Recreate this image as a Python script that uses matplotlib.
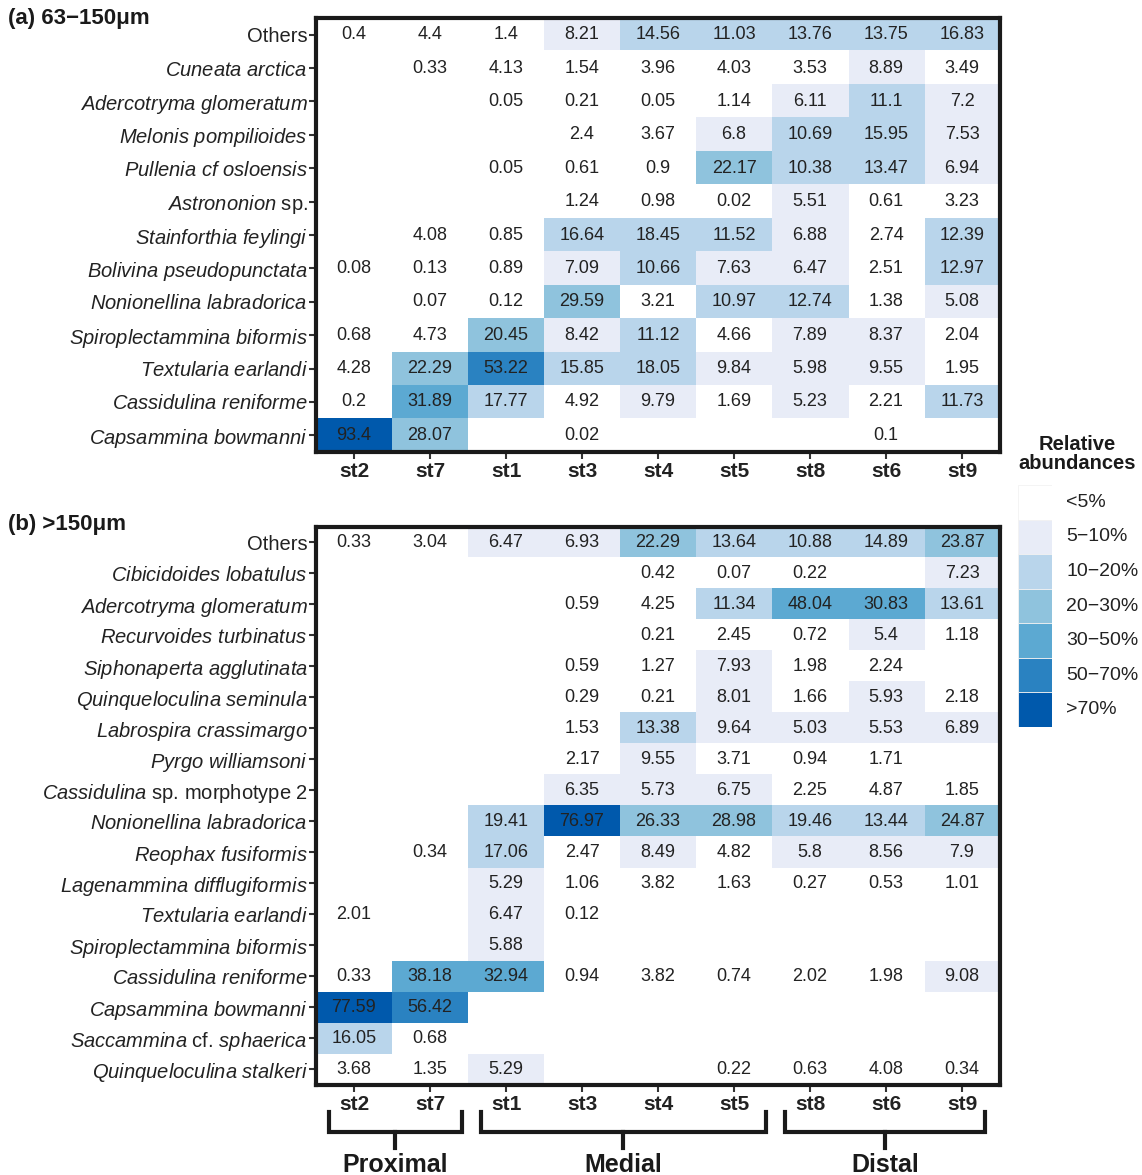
import numpy as np
import matplotlib
matplotlib.use("Agg")
import matplotlib.pyplot as plt
from matplotlib.colors import ListedColormap, BoundaryNorm
from matplotlib.patches import Rectangle

plt.rcParams['font.family'] = ['Liberation Sans', 'DejaVu Sans']
plt.rcParams['mathtext.fontset'] = 'custom'
plt.rcParams['mathtext.rm'] = 'Liberation Sans'
plt.rcParams['mathtext.it'] = 'Liberation Sans:italic'

nan = np.nan

# stations (columns)
stations = ["st2", "st7", "st1", "st3", "st4", "st5", "st8", "st6", "st9"]

# (a) 63-150um
species_a = ["Others", "Cuneata arctica", "Adercotryma glomeratum", "Melonis pompilioides",
             "Pullenia cf osloensis", "Astrononion sp.", "Stainforthia feylingi",
             "Bolivina pseudopunctata", "Nonionellina labradorica", "Spiroplectammina biformis",
             "Textularia earlandi", "Cassidulina reniforme", "Capsammina bowmanni"]
values_a = [
    [0.4, 4.4, 1.4, 8.21, 14.56, 11.03, 13.76, 13.75, 16.83],
    [nan, 0.33, 4.13, 1.54, 3.96, 4.03, 3.53, 8.89, 3.49],
    [nan, nan, 0.05, 0.21, 0.05, 1.14, 6.11, 11.1, 7.2],
    [nan, nan, nan, 2.4, 3.67, 6.8, 10.69, 15.95, 7.53],
    [nan, nan, 0.05, 0.61, 0.9, 22.17, 10.38, 13.47, 6.94],
    [nan, nan, nan, 1.24, 0.98, 0.02, 5.51, 0.61, 3.23],
    [nan, 4.08, 0.85, 16.64, 18.45, 11.52, 6.88, 2.74, 12.39],
    [0.08, 0.13, 0.89, 7.09, 10.66, 7.63, 6.47, 2.51, 12.97],
    [nan, 0.07, 0.12, 29.59, 3.21, 10.97, 12.74, 1.38, 5.08],
    [0.68, 4.73, 20.45, 8.42, 11.12, 4.66, 7.89, 8.37, 2.04],
    [4.28, 22.29, 53.22, 15.85, 18.05, 9.84, 5.98, 9.55, 1.95],
    [0.2, 31.89, 17.77, 4.92, 9.79, 1.69, 5.23, 2.21, 11.73],
    [93.4, 28.07, nan, 0.02, nan, nan, nan, 0.1, nan],
]

# (b) >150um
species_b = ["Others", "Cibicidoides lobatulus", "Adercotryma glomeratum", "Recurvoides turbinatus",
             "Siphonaperta agglutinata", "Quinqueloculina seminula", "Labrospira crassimargo",
             "Pyrgo williamsoni", "Cassidulina sp. morphotype 2", "Nonionellina labradorica",
             "Reophax fusiformis", "Lagenammina difflugiformis", "Textularia earlandi",
             "Spiroplectammina biformis", "Cassidulina reniforme", "Capsammina bowmanni",
             "Saccammina cf. sphaerica", "Quinqueloculina stalkeri"]
values_b = [
    [0.33, 3.04, 6.47, 6.93, 22.29, 13.64, 10.88, 14.89, 23.87],
    [nan, nan, nan, nan, 0.42, 0.07, 0.22, nan, 7.23],
    [nan, nan, nan, 0.59, 4.25, 11.34, 48.04, 30.83, 13.61],
    [nan, nan, nan, nan, 0.21, 2.45, 0.72, 5.4, 1.18],
    [nan, nan, nan, 0.59, 1.27, 7.93, 1.98, 2.24, nan],
    [nan, nan, nan, 0.29, 0.21, 8.01, 1.66, 5.93, 2.18],
    [nan, nan, nan, 1.53, 13.38, 9.64, 5.03, 5.53, 6.89],
    [nan, nan, nan, 2.17, 9.55, 3.71, 0.94, 1.71, nan],
    [nan, nan, nan, 6.35, 5.73, 6.75, 2.25, 4.87, 1.85],
    [nan, nan, 19.41, 76.97, 26.33, 28.98, 19.46, 13.44, 24.87],
    [nan, 0.34, 17.06, 2.47, 8.49, 4.82, 5.8, 8.56, 7.9],
    [nan, nan, 5.29, 1.06, 3.82, 1.63, 0.27, 0.53, 1.01],
    [2.01, nan, 6.47, 0.12, nan, nan, nan, nan, nan],
    [nan, nan, 5.88, nan, nan, nan, nan, nan, nan],
    [0.33, 38.18, 32.94, 0.94, 3.82, 0.74, 2.02, 1.98, 9.08],
    [77.59, 56.42, nan, nan, nan, nan, nan, nan, nan],
    [16.05, 0.68, nan, nan, nan, nan, nan, nan, nan],
    [3.68, 1.35, 5.29, nan, nan, 0.22, 0.63, 4.08, 0.34],
]

# colour classes
bounds = [0, 5, 10, 20, 30, 50, 70, 100]
class_labels = ["<5%", "5\u221210%", "10\u221220%", "20\u221230%", "30\u221250%", "50\u221270%", ">70%"]
class_colors = ["#FFFFFF", "#E8ECF7", "#B9D5EB", "#8FC3DD", "#5CA9D2", "#2A82C1", "#0059AC"]

# groups of stations
groups = ["Proximal", "Medial", "Distal"]
group_first = [0, 2, 6]
group_last = [1, 5, 8]

cmap = ListedColormap(class_colors)
cmap.set_bad("white")
norm = BoundaryNorm(bounds, cmap.N)

NON_ITALIC = {"Others", "sp.", "cf.", "morphotype", "2"}


def fmt_label(name):
    parts = []
    for w in name.split(" "):
        if w in NON_ITALIC:
            parts.append(w)
        else:
            parts.append(r"$\mathit{" + w + "}$")
    return " ".join(parts)


def heatmap(ax, species, values):
    data = np.array(values, dtype=float)
    ax.imshow(np.ma.masked_invalid(data), cmap=cmap, norm=norm, aspect="auto",
              interpolation="nearest")
    for i in range(data.shape[0]):
        for j in range(data.shape[1]):
            v = data[i, j]
            if not np.isnan(v):
                ax.text(j, i, f"{v:g}", ha="center", va="center", fontsize=13, color="#222222")
    ax.set_xticks(range(len(stations)))
    ax.set_xticklabels(stations, fontsize=15, fontweight="bold", color="#222222")
    ax.set_yticks(range(len(species)))
    ax.set_yticklabels([fmt_label(s) for s in species], fontsize=14.5, color="#222222")
    ax.tick_params(axis="both", length=5, width=1.5, color="#333333", pad=2)
    ax.tick_params(axis="y", pad=1)
    for sp in ax.spines.values():
        sp.set_linewidth(3)
        sp.set_color("#1a1a1a")


fig = plt.figure(figsize=(11.42, 11.75), dpi=100)

ax_a = fig.add_axes([0.2767, 0.6153, 0.599, 0.3694])
heatmap(ax_a, species_a, values_a)
ax_b = fig.add_axes([0.2767, 0.0766, 0.599, 0.4749])
heatmap(ax_b, species_b, values_b)

fig.text(0.007, 0.984, "(a) 63\u2212150\u03bcm", fontsize=16, fontweight="bold",
         va="center", ha="left", color="#1a1a1a")
fig.text(0.007, 0.554, "(b) >150\u03bcm", fontsize=16, fontweight="bold",
         va="center", ha="left", color="#1a1a1a")

# station group brackets under panel b
trans = ax_b.get_xaxis_transform()
y_top, y_bar, y_stem, y_txt = -0.048, -0.084, -0.113, -0.143
for name, a, b in zip(groups, group_first, group_last):
    x0 = a - 0.33
    x1 = min(b + 0.42, len(stations) - 0.7)
    xm = (x0 + x1) / 2
    ax_b.plot([x0, x0, x1, x1], [y_top, y_bar, y_bar, y_top], transform=trans,
              color="#1a1a1a", lw=3, clip_on=False, solid_joinstyle="miter")
    ax_b.plot([xm, xm], [y_bar, y_stem], transform=trans, color="#1a1a1a", lw=3,
              clip_on=False)
    ax_b.text(xm, y_txt, name, transform=trans, ha="center", va="center",
              fontsize=18, fontweight="bold", color="#1a1a1a")

# legend
ax_l = fig.add_axes([0.891, 0.3813, 0.0306, 0.2059])
n = len(class_labels)
for k, (lab, col) in enumerate(zip(class_labels, class_colors)):
    y = n - 1 - k
    ax_l.add_patch(Rectangle((0, y), 1, 1, facecolor=col, edgecolor="#f2f2f2", lw=0.6))
    ax_l.text(1.4, y + 0.5, lab, va="center", ha="left", fontsize=14, color="#222222")
ax_l.set_xlim(0, 1)
ax_l.set_ylim(0, n)
ax_l.axis("off")
fig.text(0.943, 0.6136, "Relative\nabundances", ha="center", va="center",
         fontsize=14.5, fontweight="bold", color="#1a1a1a", linespacing=1.0)

fig.savefig("out.png", dpi=100)
